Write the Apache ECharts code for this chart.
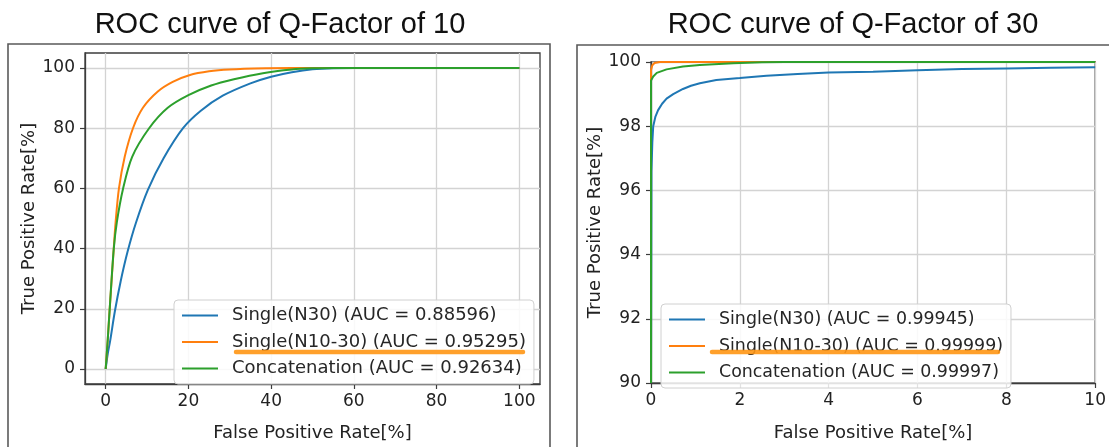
<!DOCTYPE html>
<html><head><meta charset="utf-8">
<script src="https://cdn.jsdelivr.net/npm/echarts@6/dist/echarts.min.js"></script>
<style>html,body{margin:0;padding:0;background:#fff}#c{width:1109px;height:447px}</style>
</head><body><div id="c"></div>
<script>
const titles = ['ROC curve of Q-Factor of 10', 'ROC curve of Q-Factor of 30'];
const xAxisName = 'False Positive Rate[%]';
const yAxisName = 'True Positive Rate[%]';
const namesQ10 = ['Single(N30) (AUC = 0.88596)', 'Single(N10-30) (AUC = 0.95295)', 'Concatenation (AUC = 0.92634)'];
const namesQ30 = ['Single(N30) (AUC = 0.99945)', 'Single(N10-30) (AUC = 0.99999)', 'Concatenation (AUC = 0.99997)'];
const colors = ['#1f77b4', '#ff7f0e', '#2ca02c'];

// Q-Factor 10: [FPR %, TPR %]
const q10SingleN30 = [[0,0],[0.5,5],[1.1,9.5],[2.2,19],[3.6,29],[5.3,39],[7.3,48.5],[10.2,59.5],[14,70],[18.7,80],[23,85.8],[28.3,90.8],[35,94.9],[40,97.1],[45,98.6],[50,99.6],[55,99.95],[60,100],[100,100]];
const q10SingleN1030 = [[0,0],[0.5,9.8],[0.96,19.7],[1.93,39.6],[2.4,48.8],[3.2,59.9],[4.6,70.5],[6.6,80],[9,86.8],[12.6,92.2],[16.2,95.4],[20.2,97.6],[25,98.9],[30,99.5],[39,99.9],[45,100],[100,100]];
const q10Concat = [[0,0],[0.5,9.8],[0.96,19.7],[1.93,39.6],[2.7,48.8],[4.2,59.9],[6.4,70.5],[10.5,80],[15,86.8],[20,91],[25.5,94.2],[31,96.3],[38,98.3],[45,99.5],[50,99.9],[55,100],[100,100]];

// Q-Factor 30: [FPR %, TPR %]
const q30SingleN30 = [[0,90],[0.01,96.6],[0.03,97.5],[0.05,98],[0.1,98.3],[0.16,98.5],[0.25,98.7],[0.35,98.86],[0.5,99.0],[0.72,99.16],[0.9,99.26],[1.1,99.34],[1.47,99.44],[2,99.5],[2.6,99.57],[3.3,99.63],[4,99.67],[5,99.7],[6,99.74],[7,99.78],[8,99.8],[9,99.82],[10,99.84]];
const q30SingleN1030 = [[0,90],[0,99.75],[0.03,99.9],[0.08,99.97],[0.2,100],[10,100]];
const q30Concat = [[0,90],[0,99.42],[0.05,99.55],[0.13,99.66],[0.35,99.77],[0.72,99.86],[1.1,99.91],[1.85,99.96],[2.5,99.99],[3,100],[10,100]];

const xTicksQ10 = [0, 20, 40, 60, 80, 100];
const yTicksQ10 = [0, 20, 40, 60, 80, 100];
const xTicksQ30 = [0, 2, 4, 6, 8, 10];
const yTicksQ30 = [90, 92, 94, 96, 98, 100];

const FONT = 'DejaVu Sans';
const txt = '#222';
const spine = '#3c3c3c';
const gridCol = '#d3d3d3';

function axis(opt) {
  const base = {
    type: 'value',
    axisLine: { show: true, onZero: false, lineStyle: { color: spine, width: 1.3 } },
    axisTick: { show: true, length: 5, lineStyle: { color: spine, width: 1.2 } },
    axisLabel: { color: txt, fontSize: 17, fontFamily: FONT },
    splitLine: { show: true, lineStyle: { color: gridCol, width: 1.3 } },
    nameLocation: 'middle',
    nameTextStyle: { color: txt, fontSize: 18, fontFamily: FONT }
  };
  return Object.assign(base, opt, {
    axisTick: Object.assign({}, base.axisTick, opt.axisTick || {}),
    axisLabel: Object.assign({}, base.axisLabel, opt.axisLabel || {}),
    splitLine: Object.assign({}, base.splitLine, opt.splitLine || {})
  });
}

function line(name, data, color, xi, smooth) {
  return {
    name, type: 'line', data, xAxisIndex: xi, yAxisIndex: xi,
    symbol: 'none', showSymbol: false, smooth: smooth,
    clip: false, z: 3,
    lineStyle: { color, width: 2 }, itemStyle: { color }
  };
}

function legend(data, left, top, fs) {
  return {
    data, left, top, orient: 'vertical', icon: 'rect',
    padding: [5, 8], itemGap: 5.5, itemWidth: 36, itemHeight: 2.2,
    backgroundColor: 'rgba(255,255,255,0.85)', borderColor: '#d0d0d0', borderWidth: 1, borderRadius: 4,
    textStyle: { color: '#262626', fontSize: fs, fontFamily: FONT, lineHeight: 21, padding: [0, 0, 0, 9] },
    selectedMode: false, z: 10
  };
}

const chart = echarts.init(document.getElementById('c'));
chart.setOption({
  animation: false,
  backgroundColor: '#fff',
  grid: [
    { left: 85, top: 53, width: 455, height: 339, show: true, borderColor: spine, borderWidth: 1.3, backgroundColor: 'transparent' },
    { left: 651, top: 62, width: 448, height: 332, show: true, borderColor: spine, borderWidth: 1.3, backgroundColor: 'transparent' }
  ],
  xAxis: [
    axis({ gridIndex: 0, min: -5, max: 105, name: xAxisName, nameGap: 40,
      axisLabel: { customValues: xTicksQ10, margin: 9 }, axisTick: { customValues: xTicksQ10 }, splitLine: { customValues: xTicksQ10 } }),
    axis({ gridIndex: 1, min: 0, max: 10, interval: 2, name: xAxisName, nameGap: 41,
      axisLabel: { margin: 9 } })
  ],
  yAxis: [
    axis({ gridIndex: 0, min: -5, max: 105, name: yAxisName, nameGap: 46,
      axisLabel: { customValues: yTicksQ10, margin: 10 }, axisTick: { customValues: yTicksQ10 }, splitLine: { customValues: yTicksQ10 } }),
    axis({ gridIndex: 1, min: 90, max: 100, interval: 2, name: yAxisName, nameGap: 36,
      axisLabel: { margin: 10 } })
  ],
  legend: [legend(namesQ10, 174, 300, 18), legend(namesQ30, 661, 304, 17.4)],
  series: [
    line(namesQ10[0], q10SingleN30, colors[0], 0, 0.3),
    line(namesQ10[1], q10SingleN1030, colors[1], 0, 0.3),
    line(namesQ10[2], q10Concat, colors[2], 0, 0.3),
    line(namesQ30[0], q30SingleN30, colors[0], 1, false),
    line(namesQ30[1], q30SingleN1030, colors[1], 1, false),
    line(namesQ30[2], q30Concat, colors[2], 1, false)
  ],
  graphic: [
    { type: 'rect', shape: { x: 8, y: 44, width: 542, height: 430 }, style: { fill: 'none', stroke: '#5a5a5a', lineWidth: 1.6 }, z: 1 },
    { type: 'rect', shape: { x: 577, y: 45, width: 560, height: 430 }, style: { fill: 'none', stroke: '#5a5a5a', lineWidth: 1.6 }, z: 1 },
    { type: 'text', x: 280, y: 25, style: { text: titles[0], fill: '#111', font: '29px "Liberation Sans", Arial, sans-serif', align: 'center', verticalAlign: 'middle' }, z: 5 },
    { type: 'text', x: 853, y: 25, style: { text: titles[1], fill: '#111', font: '29px "Liberation Sans", Arial, sans-serif', align: 'center', verticalAlign: 'middle' }, z: 5 },
    { type: 'line', shape: { x1: 236, y1: 352, x2: 523, y2: 352 }, style: { stroke: 'rgba(255,150,20,0.9)', lineWidth: 4.5, lineCap: 'round' }, z: 200 },
    { type: 'line', shape: { x1: 712, y1: 352, x2: 998, y2: 352 }, style: { stroke: 'rgba(255,150,20,0.9)', lineWidth: 4.5, lineCap: 'round' }, z: 200 }
  ]
});
</script></body></html>
